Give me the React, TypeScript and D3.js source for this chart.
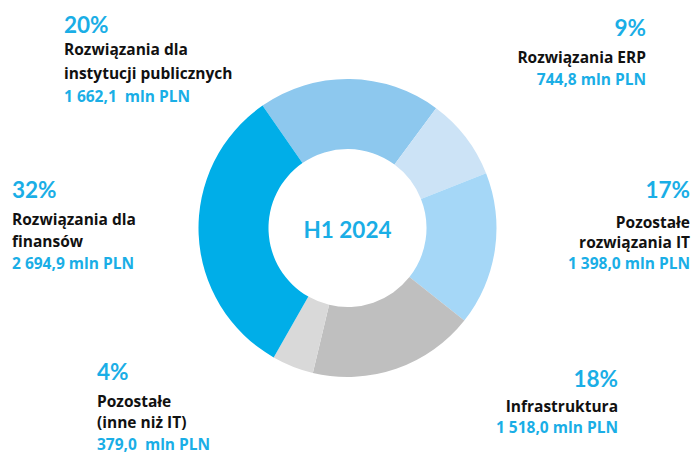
import { useEffect, useRef } from "react";
import * as d3 from "d3";

const categories = [
  "Rozwiązania dla instytucji publicznych",
  "Rozwiązania ERP",
  "Pozostałe rozwiązania IT",
  "Infrastruktura",
  "Pozostałe (inne niż IT)",
  "Rozwiązania dla finansów",
];
const values = [1662.1, 744.8, 1398.0, 1518.0, 379.0, 2694.9];
const percentLabels = ["20%", "9%", "17%", "18%", "4%", "32%"];
const nameLines = [
  ["Rozwiązania dla", "instytucji publicznych"],
  ["Rozwiązania ERP"],
  ["Pozostałe", "rozwiązania IT"],
  ["Infrastruktura"],
  ["Pozostałe", "(inne niż IT)"],
  ["Rozwiązania dla", "finansów"],
];
const valueLabels = [
  "1 662,1  mln PLN",
  "744,8 mln PLN",
  "1 398,0 mln PLN",
  "1 518,0 mln PLN",
  "379,0  mln PLN",
  "2 694,9 mln PLN",
];
const centerTitle = "H1 2024";

const colors = ["#8dc8ee", "#cce3f6", "#a5d7f7", "#bfbfbf", "#d9d9d9", "#00aee8"];

// label blocks: anchor x, baseline of the percent, then baselines of the lines below
const labelLayout = [
  { x: 64, anchor: "start", y: [33, 55, 79, 102] },
  { x: 646, anchor: "end", y: [36, 63, 85] },
  { x: 690, anchor: "end", y: [198, 228, 248, 269] },
  { x: 618, anchor: "end", y: [387, 412, 433] },
  { x: 97, anchor: "start", y: [380, 407, 428, 450] },
  { x: 12, anchor: "start", y: [198, 225, 247, 269] },
];

const W = 693;
const H = 454;
const cx = 347.5;
const cy = 228;
const bigFont = "Lato, 'Open Sans', sans-serif";
const font = "'Open Sans', Lato, sans-serif";
const blue = "#1aaee6";

const App = () => {
  const svgRef = useRef<SVGSVGElement>(null);

  useEffect(() => {
    const svg = d3.select(svgRef.current);
    svg.selectAll("*").remove();

    const start = (-34.76 * Math.PI) / 180;
    const pie = d3
      .pie<number>()
      .sort(null)
      .value((d) => d)
      .startAngle(start)
      .endAngle(start + 2 * Math.PI);
    const arc = d3.arc<d3.PieArcDatum<number>>().innerRadius(79).outerRadius(149);

    const g = svg.append("g").attr("transform", `translate(${cx},${cy})`);
    g.selectAll("path")
      .data(pie(values))
      .enter()
      .append("path")
      .attr("d", arc)
      .attr("fill", (_, i) => colors[i]);

    g.append("text")
      .attr("y", 10)
      .attr("text-anchor", "middle")
      .attr("font-family", bigFont)
      .attr("font-weight", 700)
      .attr("font-size", 22.5)
      .attr("fill", blue)
      .text(centerTitle);

    categories.forEach((_, i) => {
      const lay = labelLayout[i];
      const t = svg
        .append("g")
        .attr("font-weight", 700)
        .attr("text-anchor", lay.anchor);
      t.append("text")
        .attr("x", lay.x)
        .attr("y", lay.y[0])
        .attr("font-family", bigFont)
        .attr("font-size", 22.5)
        .attr("fill", blue)
        .text(percentLabels[i]);
      nameLines[i].forEach((line, j) => {
        t.append("text")
          .attr("x", lay.x)
          .attr("y", lay.y[j + 1])
          .attr("font-family", font)
          .attr("font-size", 15.5)
          .attr("fill", "#111")
          .text(line);
      });
      t.append("text")
        .attr("x", lay.x)
        .attr("y", lay.y[nameLines[i].length + 1])
        .attr("font-family", font)
        .attr("font-size", 15.5)
        .attr("fill", blue)
        .style("white-space", "pre")
        .text(valueLabels[i]);
    });
  }, []);

  return (
    <svg
      ref={svgRef}
      width={W}
      height={H}
      style={{ position: "absolute", left: 0, top: 0, background: "#fff" }}
    />
  );
};

export default App;
